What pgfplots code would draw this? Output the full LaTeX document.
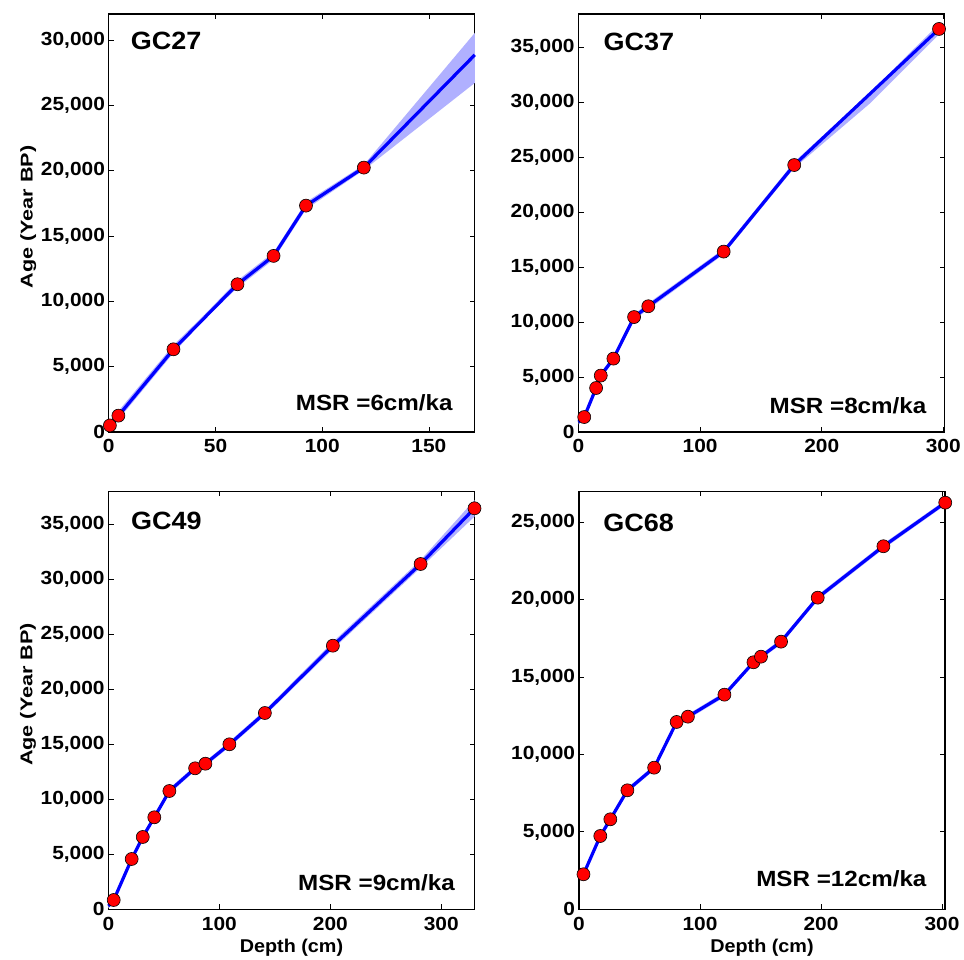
\documentclass[border=0pt]{standalone}
\usepackage{fontspec}
\setmainfont{Liberation Sans}
\usepackage{pgfplots}
\pgfplotsset{compat=1.18}

\definecolor{bandcol}{RGB}{176,176,255}
\definecolor{linecol}{RGB}{0,0,255}

\tikzset{
  core label/.style={anchor=base west, inner sep=0pt, xscale=1.08, font=\fontsize{25}{27}\selectfont\bfseries},
  msr label/.style={anchor=base east, inner sep=0pt, xscale=1.1, font=\fontsize{22}{24}\selectfont\bfseries},
}
\pgfplotsset{
  core/.style={
    scale only axis, width=366pt, height=418pt,
    anchor=south west, xmin=0, ymin=0, clip=false,
    tick align=inside, major tick length=5pt,
    axis line style={line width=1.1pt}, tick style={line width=0.8pt, black},
    tick label style={font=\fontsize{19}{20}\selectfont\bfseries, xscale=1.1},
    xticklabel style={yshift=-4pt},
    xlabel style={at={(axis description cs:0.5,0)}, anchor=base, yshift=-43.5pt,
      xscale=1.07, font=\fontsize{18.5}{20}\selectfont\bfseries},
    ylabel style={at={(axis description cs:-0.22,0.514)}, anchor=center,
      xscale=1.27, font=\fontsize{17}{19}\selectfont\bfseries},
    scaled y ticks=false,
    /pgf/number format/.cd, 1000 sep={,}, assume math mode=true,
  },
  band/.style={fill=bandcol, draw=none},
  age/.style={linecol, line width=3.2pt},
  dates/.style={only marks, mark=*, mark size=6.5pt, mark options={fill=red, draw=black, line width=0.6pt}},
}

\begin{document}
\begin{tikzpicture}
\useasboundingbox (0,0) rectangle (964pt,960pt);

% GC27
\begin{axis}[core, at={(108.8pt,528pt)}, xmax=171.5, ymax=32000,
  xtick={0,50,100,150}, ytick={0,5000,...,30000},
  ylabel={Age (Year BP)}]
\addplot[band] coordinates {
  (0,750) (4.5,1600) (30.3,6650) (45,9000) (60.3,11600) (77.2,13750) (92.4,17600) (119.5,20450) (171.5,30550)
  (171.5,26720) (119.5,20050) (92.4,17050) (77.2,13200) (60.3,11050) (45,8650) (30.3,6050) (4.5,950) (0,300)};
\addplot[age] coordinates {
  (0.5,500) (4.5,1250) (30.3,6330) (60.3,11310) (77.2,13480) (92.4,17330) (119.5,20240) (171.5,28870)};
\addplot[dates] coordinates {
  (0.5,500) (4.5,1250) (30.3,6330) (60.3,11310) (77.2,13480) (92.4,17330) (119.5,20240)};
\node[core label] at (rel axis cs:0.06,0.9156) {GC27};
\node[msr label] at (rel axis cs:0.940,0.051) {MSR =6cm/ka};
\end{axis}

% GC37
\begin{axis}[core, at={(578.5pt,528pt)}, xmax=301, ymax=38000,
  xtick={0,100,200,300}, ytick={0,5000,...,35000}]
\addplot[band] coordinates {
  (0,1100) (4.7,1600) (14.5,4250) (18.3,5400) (28.7,6950) (45.7,10700) (57.4,11700) (119.4,16650) (177.4,24550) (240,30900) (296.5,37100)
  (296.5,36150) (240,29900) (177.4,24000) (119.4,16150) (57.4,11150) (45.7,10200) (28.7,6400) (18.3,4850) (14.5,3750) (4.7,1100) (0,700)};
\addplot[age] coordinates {
  (0,900) (4.7,1360) (14.5,4000) (18.3,5130) (28.7,6670) (45.7,10450) (57.4,11430) (119.4,16400) (177.4,24270) (296.5,36640)};
\addplot[dates] coordinates {
  (4.7,1360) (14.5,4000) (18.3,5130) (28.7,6670) (45.7,10450) (57.4,11430) (119.4,16400) (177.4,24270) (296.5,36640)};
\node[core label] at (rel axis cs:0.068,0.913) {GC37};
\node[msr label] at (rel axis cs:0.951,0.045) {MSR =8cm/ka};
\end{axis}

% GC49
\begin{axis}[core, at={(108.5pt,50.7pt)}, xmax=330, ymax=38000,
  xtick={0,100,200,300}, ytick={0,5000,...,35000},
  ylabel={Age (Year BP)}, xlabel={Depth (cm)}]
\addplot[band] coordinates {
  (0,500) (4.7,1050) (20.9,4800) (30.9,6800) (41.3,8600) (54.9,11000) (78.1,13050) (87.4,13450) (109,15250) (141,18100) (202.3,24300) (281.4,31750) (330,37200)
  (330,35700) (281.4,31050) (202.3,23650) (141,17600) (109,14750) (87.4,13000) (78.1,12600) (54.9,10500) (41.3,8100) (30.9,6350) (20.9,4350) (4.7,650) (0,100)};
\addplot[age] coordinates {
  (0,300) (4.7,845) (20.9,4573) (30.9,6573) (41.3,8364) (54.9,10755) (78.1,12818) (87.4,13236) (109,15000) (141,17845) (202.3,23964) (281.4,31390) (330,36455)};
\addplot[dates] coordinates {
  (4.7,845) (20.9,4573) (30.9,6573) (41.3,8364) (54.9,10755) (78.1,12818) (87.4,13236) (109,15000) (141,17845) (202.3,23964) (281.4,31390) (330,36455)};
\node[core label] at (rel axis cs:0.061,0.909) {GC49};
\node[msr label] at (rel axis cs:0.947,0.046) {MSR =9cm/ka};
\end{axis}

% GC68
\begin{axis}[core, at={(579pt,50.7pt)}, xmax=302.5, ymax=27000,
  xtick={0,100,200,300}, ytick={0,5000,...,25000},
  xlabel={Depth (cm)}]
\addplot[band] coordinates {
  (3.7,2400) (17.6,4900) (25.9,5980) (40,7850) (62.1,9300) (80.7,12250) (90,12600) (120.2,14020) (144.2,16100) (150.4,16470) (167,17450) (197.3,20300) (251.6,23620) (302.7,26420)
  (302.7,26110) (251.6,23280) (197.3,19960) (167,17120) (150.4,16170) (144.2,15810) (120.2,13700) (90,12280) (80.7,11950) (62.1,8990) (40,7520) (25.9,5650) (17.6,4570) (3.7,2120)};
\addplot[age] coordinates {
  (3.7,2261) (17.6,4735) (25.9,5814) (40,7687) (62.1,9147) (80.7,12100) (90,12442) (120.2,13863) (144.2,15956) (150.4,16318) (167,17287) (197.3,20129) (251.6,23450) (302.7,26266)};
\addplot[dates] coordinates {
  (3.7,2261) (17.6,4735) (25.9,5814) (40,7687) (62.1,9147) (80.7,12100) (90,12442) (120.2,13863) (144.2,15956) (150.4,16318) (167,17287) (197.3,20129) (251.6,23450) (302.7,26266)};
\node[core label] at (rel axis cs:0.066,0.903) {GC68};
\node[msr label] at (rel axis cs:0.950,0.054) {MSR =12cm/ka};
\end{axis}
\end{tikzpicture}
\end{document}
